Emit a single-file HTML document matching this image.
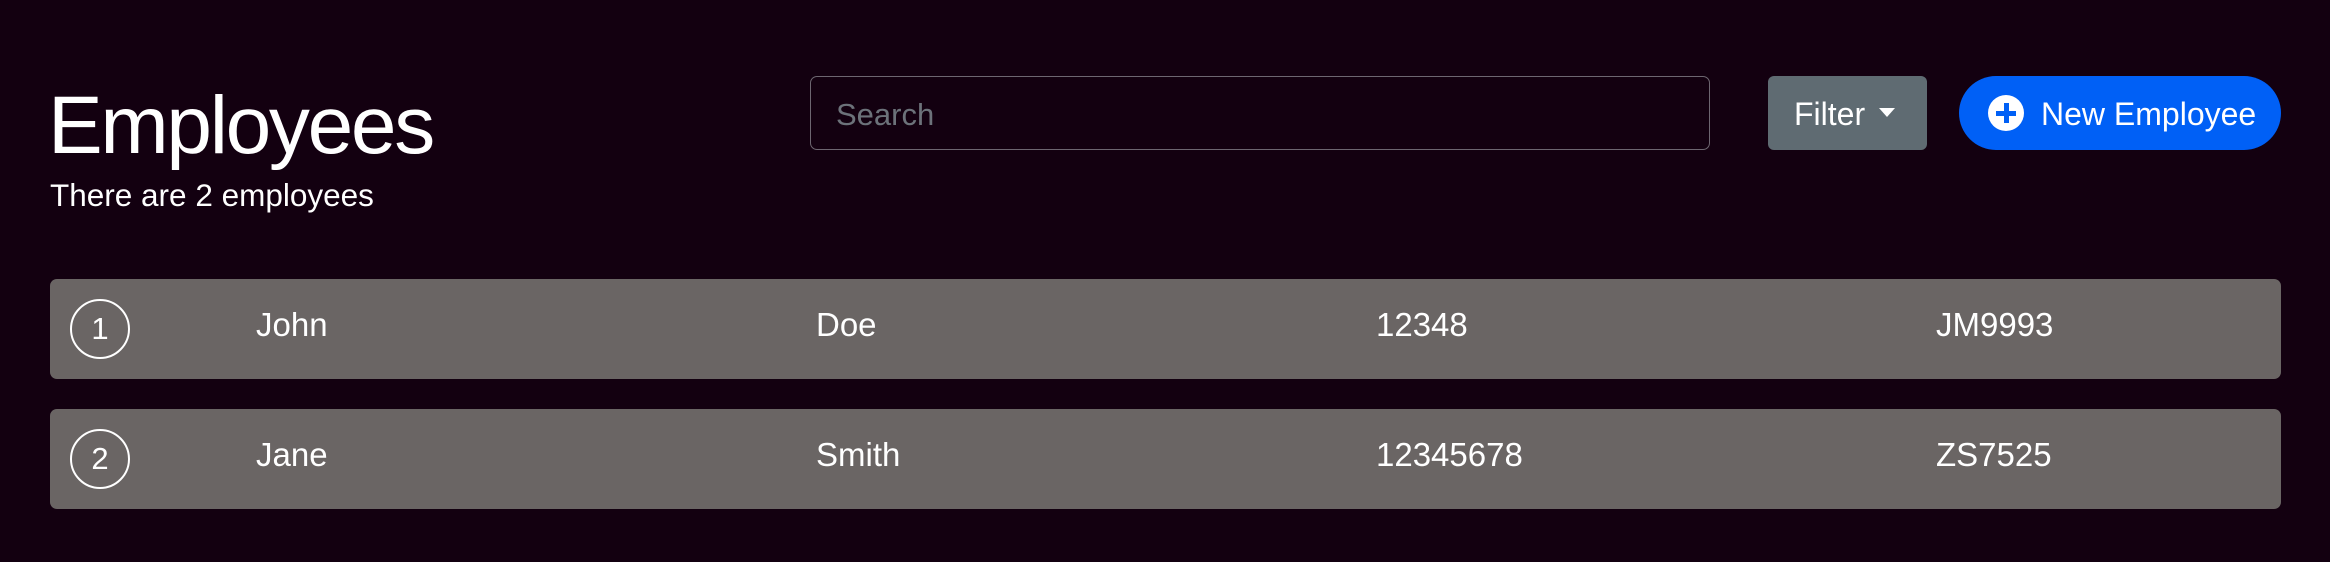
<!DOCTYPE html>
<html><head><meta charset="utf-8"><style>
body{margin:0;width:2330px;height:562px;background:#130010;font-family:"Liberation Sans",sans-serif;color:#fff;position:relative;overflow:hidden}
.a{position:absolute}
h1{margin:0;font-weight:400;font-size:82px;left:48px;top:79px;letter-spacing:-2.3px}
.sub{font-size:31.5px;left:50px;top:177px}
.search{left:810px;top:76px;width:900px;height:74px;border:1.5px solid #6d6670;border-radius:7px;box-sizing:border-box;font-size:31px;color:#6c727a;padding:20px 0 0 25px}
.filter{left:1768px;top:76px;width:159px;height:74px;background:#5f6b72;border-radius:6px;font-size:32px;line-height:76px;padding-left:26px;box-sizing:border-box}
.caret{display:inline-block;margin-left:14px;border-left:8px solid transparent;border-right:8px solid transparent;border-top:9px solid #fff;vertical-align:middle;position:relative;top:-4px}
.new{left:1959px;top:76px;width:322px;height:74px;background:#0060f6;border-radius:37px;font-size:32px;line-height:76px;box-sizing:border-box;padding-left:82px}
.plus{left:29px;top:19px;width:36px;height:36px;border-radius:50%;background:#fff}
.plus:before,.plus:after{content:"";position:absolute;background:#0060f6}
.plus:before{left:16px;top:8px;width:5px;height:20px}
.plus:after{left:8px;top:16px;width:20px;height:5px}
.row{left:50px;width:2231px;height:100px;background:#6a6564;border-radius:7px;font-size:33px}
.row span{position:absolute;top:27px}
.num{left:20px;top:20px;width:56px;height:56px;border:2px solid #fff;border-radius:50%;text-align:center;line-height:56px;font-size:31px}
</style></head><body>
<h1 class="a">Employees</h1>
<div class="a sub">There are 2 employees</div>
<div class="a search">Search</div>
<div class="a filter">Filter<span class="caret"></span></div>
<div class="a new"><div class="a plus"></div>New Employee</div>
<div class="a row" style="top:279px">
<div class="a num">1</div>
<span style="left:206px">John</span>
<span style="left:766px">Doe</span>
<span style="left:1326px">12348</span>
<span style="left:1886px">JM9993</span>
</div>
<div class="a row" style="top:409px">
<div class="a num">2</div>
<span style="left:206px">Jane</span>
<span style="left:766px">Smith</span>
<span style="left:1326px">12345678</span>
<span style="left:1886px">ZS7525</span>
</div>
</body></html>
